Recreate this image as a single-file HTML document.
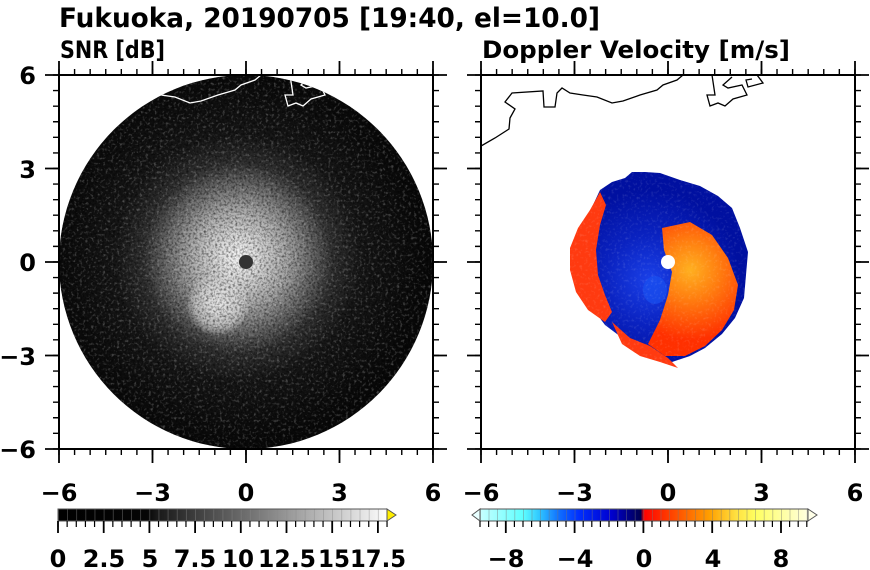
<!DOCTYPE html>
<html><head><meta charset="utf-8"><style>
html,body{margin:0;padding:0;background:#fff;}
svg{display:block;font-family:"DejaVu Sans","Liberation Sans",sans-serif;font-weight:bold;}
</style></head><body>
<svg width="870" height="570" viewBox="0 0 870 570" xmlns="http://www.w3.org/2000/svg">
<defs>
<clipPath id="cl"><circle cx="246" cy="262" r="187"/></clipPath>
<clipPath id="boxR"><rect x="481" y="75" width="374" height="374"/></clipPath>
<radialGradient id="snr" cx="238" cy="258" r="190" gradientUnits="userSpaceOnUse">
<stop offset="0" stop-color="#f4f4f4"/>
<stop offset="0.1" stop-color="#dcdcdc"/>
<stop offset="0.25" stop-color="#a8a8a8"/>
<stop offset="0.38" stop-color="#6a6a6a"/>
<stop offset="0.5" stop-color="#303030"/>
<stop offset="0.65" stop-color="#161616"/>
<stop offset="1" stop-color="#080808"/>
</radialGradient>
<radialGradient id="lobe" cx="218" cy="305" r="32" gradientUnits="userSpaceOnUse">
<stop offset="0" stop-color="#f0f0f0" stop-opacity="0.9"/>
<stop offset="0.7" stop-color="#e0e0e0" stop-opacity="0.6"/>
<stop offset="1" stop-color="#e0e0e0" stop-opacity="0"/>
</radialGradient>
<radialGradient id="org" cx="690" cy="270" r="70" gradientUnits="userSpaceOnUse">
<stop offset="0" stop-color="#ffb020"/>
<stop offset="0.4" stop-color="#ff8010"/>
<stop offset="1" stop-color="#ff3000"/>
</radialGradient>
<radialGradient id="blu" cx="650" cy="280" r="90" gradientUnits="userSpaceOnUse">
<stop offset="0" stop-color="#1a40e8"/>
<stop offset="0.5" stop-color="#0a22c0"/>
<stop offset="1" stop-color="#0010a0"/>
</radialGradient>
<filter id="noise" x="0" y="0" width="100%" height="100%">
<feTurbulence type="fractalNoise" baseFrequency="0.45" numOctaves="2" seed="3"/>
<feColorMatrix type="matrix" values="0 0 0 0 0  0 0 0 0 0  0 0 0 0 0  0 0 0 -2.2 1.3"/>
</filter>
<filter id="noise2" x="0" y="0" width="100%" height="100%">
<feTurbulence type="fractalNoise" baseFrequency="0.35" numOctaves="2" seed="7"/>
<feColorMatrix type="matrix" values="0 0 0 0 1  0 0 0 0 1  0 0 0 0 1  0 0 0 -3 1.4"/>
</filter>
<linearGradient id="gcb" x1="58" x2="387" gradientUnits="userSpaceOnUse">
<stop offset="0" stop-color="#000"/>
<stop offset="0.27" stop-color="#050505"/>
<stop offset="0.3" stop-color="#181818"/>
<stop offset="0.6" stop-color="#777"/>
<stop offset="0.94" stop-color="#e8e8e8"/>
<stop offset="1" stop-color="#fff"/>
</linearGradient>
<linearGradient id="vcb" x1="480" x2="808" gradientUnits="userSpaceOnUse">
<stop offset="0" stop-color="#c8ffff"/>
<stop offset="0.13" stop-color="#60ffff"/>
<stop offset="0.18" stop-color="#30c8ff"/>
<stop offset="0.24" stop-color="#1070ff"/>
<stop offset="0.3" stop-color="#0030ff"/>
<stop offset="0.4" stop-color="#0000d0"/>
<stop offset="0.49" stop-color="#000050"/>
<stop offset="0.5" stop-color="#ff0000"/>
<stop offset="0.6" stop-color="#ff5000"/>
<stop offset="0.7" stop-color="#ffa000"/>
<stop offset="0.78" stop-color="#ffe040"/>
<stop offset="0.84" stop-color="#ffff60"/>
<stop offset="1" stop-color="#ffffe0"/>
</linearGradient>
</defs>

<text x="59" y="27" font-size="27" textLength="541" lengthAdjust="spacingAndGlyphs">Fukuoka, 20190705 [19:40, el=10.0]</text>
<text x="60" y="58" font-size="24" textLength="105" lengthAdjust="spacingAndGlyphs">SNR [dB]</text>
<text x="482" y="58" font-size="24" textLength="308" lengthAdjust="spacingAndGlyphs">Doppler Velocity [m/s]</text>

<!-- LEFT PANEL -->
<g>
<circle cx="246" cy="262" r="187" fill="url(#snr)"/>
<circle cx="218" cy="303" r="32" fill="url(#lobe)"/>
<g clip-path="url(#cl)">
<rect x="59" y="75" width="374" height="374" filter="url(#noise)" opacity="0.55"/>
<rect x="59" y="75" width="374" height="374" filter="url(#noise2)" opacity="0.25"/>
<polyline fill="none" stroke="#fff" stroke-width="1.3" points="59,146 73,138 87,129 88,118 93,109 83,102 90,93 121,91 122,107 133,107 135,93 140,88 148,93 161,95 175,97 190,103 201,101 218,95 235,90 241,85 255,80 261,75"/>
<polyline fill="none" stroke="#fff" stroke-width="1.3" points="278,75 290,75 293,95 285,95 288,106 296,103 303,106 311,99 325,95 320,85 306,88 301,85 310,77"/>
</g>
<circle cx="246" cy="262" r="7" fill="#333"/>
</g>

<!-- RIGHT PANEL -->
<g clip-path="url(#boxR)">
<path d="M600,190 L612,182 625,178 632,172 645,172 660,173 680,180 700,186 718,196 732,208 740,228 748,252 746,275 744,298 735,318 722,334 705,348 690,356 672,362 650,352 625,340 605,325 590,305 582,280 580,250 586,220 Z" fill="url(#blu)"/>
<path d="M600,192 L590,210 578,228 570,248 570,270 576,292 588,310 605,322 612,312 605,295 598,275 596,250 600,225 606,205 Z" fill="#ff3a10"/>
<path d="M612,322 L630,338 650,346 668,358 678,368 660,362 640,356 622,344 Z" fill="#ff3a10"/>
<path d="M662,228 L690,222 712,235 728,258 738,285 734,310 722,330 705,346 685,356 665,356 648,344 660,320 668,295 672,272 664,250 Z" fill="url(#org)"/>
<ellipse cx="655" cy="290" rx="12" ry="14" fill="#1a50f0" opacity="0.7"/>
<rect x="481" y="75" width="374" height="374" filter="url(#noise2)" opacity="0.12"/>
<circle cx="668" cy="262" r="7" fill="#fff"/>
<polyline fill="none" stroke="#000" stroke-width="1.3" points="481,146 495,138 509,129 510,118 515,109 505,102 512,93 543,91 544,107 555,107 557,93 562,88 570,93 583,95 597,97 612,103 623,101 640,95 657,90 663,85 677,80 683,75"/>
<polyline fill="none" stroke="#000" stroke-width="1.3" points="712,75 715,95 707,95 710,106 718,103 725,106 733,99 747,95 742,85 728,88 723,85 732,77"/>
<polyline fill="none" stroke="#000" stroke-width="1.3" points="750,75 757,75 763,83 748,87 746,80 752,79"/>
</g>

<!-- AXES BOXES -->
<g fill="none" stroke="#000">
<rect x="59" y="75" width="374" height="374" stroke-width="2"/>
<rect x="481" y="75" width="374" height="374" stroke-width="2"/>
<g stroke-width="1.4">
<line x1="58.3" y1="72" x2="434" y2="72" stroke-width="6" stroke-dasharray="1.4 14.18"/>
<line x1="58.3" y1="452" x2="434" y2="452" stroke-width="6" stroke-dasharray="1.4 14.18"/>
<line x1="56" y1="74.3" x2="56" y2="450" stroke-width="6" stroke-dasharray="1.4 14.18"/>
<line x1="436" y1="74.3" x2="436" y2="450" stroke-width="6" stroke-dasharray="1.4 14.18"/>
<line x1="480.3" y1="72" x2="856" y2="72" stroke-width="6" stroke-dasharray="1.4 14.18"/>
<line x1="480.3" y1="452" x2="856" y2="452" stroke-width="6" stroke-dasharray="1.4 14.18"/>
<line x1="478" y1="74.3" x2="478" y2="450" stroke-width="6" stroke-dasharray="1.4 14.18"/>
<line x1="858" y1="74.3" x2="858" y2="450" stroke-width="6" stroke-dasharray="1.4 14.18"/>
</g>
<g stroke-width="1.8">
<path d="M59,61V75M152.5,61V75M246,61V75M339.5,61V75M433,61V75"/>
<path d="M59,449V463M152.5,449V463M246,449V463M339.5,449V463M433,449V463"/>
<path d="M45,75H59M45,168.5H59M45,262H59M45,355.5H59M45,449H59"/>
<path d="M433,75H447M433,168.5H447M433,262H447M433,355.5H447M433,449H447"/>
<path d="M481,61V75M574.5,61V75M668,61V75M761.5,61V75M855,61V75"/>
<path d="M481,449V463M574.5,449V463M668,449V463M761.5,449V463M855,449V463"/>
<path d="M467,75H481M467,168.5H481M467,262H481M467,355.5H481M467,449H481"/>
<path d="M855,75H869M855,168.5H869M855,262H869M855,355.5H869M855,449H869"/>
</g>
</g>

<g font-size="24" text-anchor="end">
<text x="36" y="84">6</text>
<text x="36" y="178">3</text>
<text x="36" y="271">0</text>
<text x="36" y="365">−3</text>
<text x="36" y="458">−6</text>
</g>
<g font-size="24" text-anchor="middle">
<text x="59" y="501">−6</text><text x="152.5" y="501">−3</text><text x="246" y="501">0</text><text x="339.5" y="501">3</text><text x="433" y="501">6</text>
<text x="481" y="501">−6</text><text x="574.5" y="501">−3</text><text x="668" y="501">0</text><text x="761.5" y="501">3</text><text x="855" y="501">6</text>
</g>

<!-- SNR colorbar -->
<rect x="58" y="509" width="329" height="12" fill="url(#gcb)"/>
<line x1="58" y1="515" x2="387" y2="515" stroke="#888" stroke-width="12" stroke-dasharray="0.8 8.34" stroke-dashoffset="-9.14" opacity="0.5"/>
<polygon points="387,509 396,515 387,521" fill="#ffee00" stroke="#555" stroke-width="1"/>
<rect x="58" y="509" width="329" height="12" fill="none" stroke="#555" stroke-width="1"/>
<line x1="57.4" y1="524" x2="388" y2="524" stroke="#000" stroke-width="6" stroke-dasharray="1.2 7.94"/>
<path d="M58,521V533M103.7,521V533M149.4,521V533M195.1,521V533M240.8,521V533M286.5,521V533M332.2,521V533M377.9,521V533" stroke="#000" stroke-width="1.8"/>
<g font-size="24" text-anchor="middle">
<text x="58" y="567">0</text><text x="104" y="567">2.5</text><text x="150" y="567">5</text><text x="195" y="567">7.5</text><text x="238" y="567" textLength="32" lengthAdjust="spacingAndGlyphs">10</text><text x="287" y="567" textLength="58" lengthAdjust="spacingAndGlyphs">12.5</text><text x="334" y="567" textLength="32" lengthAdjust="spacingAndGlyphs">15</text><text x="378" y="567" textLength="56" lengthAdjust="spacingAndGlyphs">17.5</text>
</g>

<!-- Doppler colorbar -->
<rect x="480" y="509" width="328" height="12" fill="url(#vcb)"/>
<line x1="480" y1="515" x2="808" y2="515" stroke="#777" stroke-width="12" stroke-dasharray="0.8 7.8" stroke-dashoffset="-8.6" opacity="0.5"/>
<polygon points="480,509 472,515 480,521" fill="#e8ffff" stroke="#555" stroke-width="1"/>
<polygon points="808,509 817,515 808,521" fill="#ffffe8" stroke="#555" stroke-width="1"/>
<rect x="480" y="509" width="328" height="12" fill="none" stroke="#555" stroke-width="1"/>
<line x1="479.4" y1="524" x2="809" y2="524" stroke="#000" stroke-width="6" stroke-dasharray="1.2 7.4"/>
<path d="M505.8,521V533M574.6,521V533M643.4,521V533M712.2,521V533M781,521V533" stroke="#000" stroke-width="1.8"/>
<g font-size="24" text-anchor="middle">
<text x="506" y="567">−8</text><text x="575" y="567">−4</text><text x="644" y="567">0</text><text x="713" y="567">4</text><text x="781" y="567">8</text>
</g>
</svg>
</body></html>
